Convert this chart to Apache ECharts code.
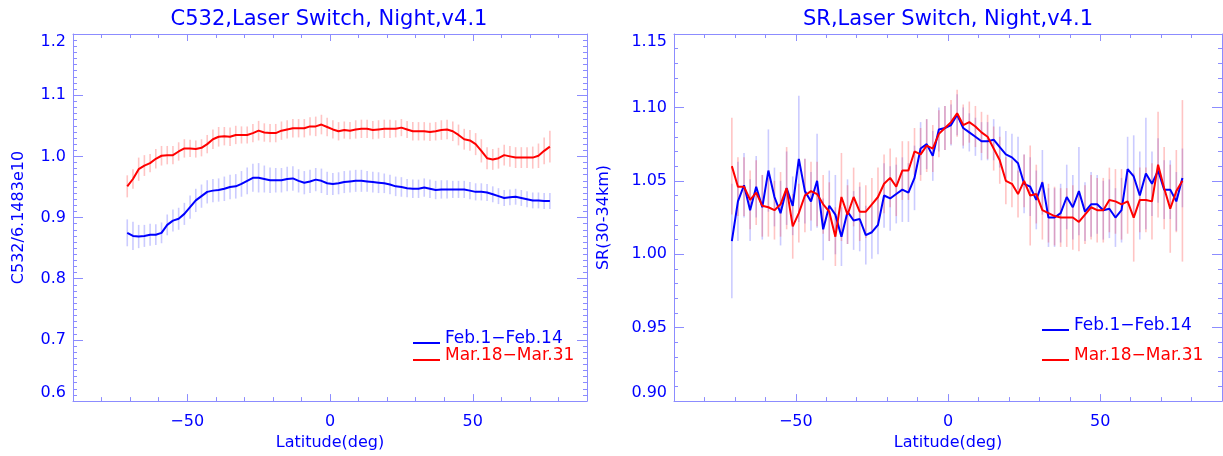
<!DOCTYPE html>
<html>
<head>
<meta charset="utf-8">
<script src="https://cdn.jsdelivr.net/npm/echarts@6.0.0/dist/echarts.min.js"></script>
<style>
  html, body { margin: 0; padding: 0; background: #ffffff; }
  #chart { width: 1223px; height: 456px; }
</style>
</head>
<body>
<div id="chart"></div>
<script>
// Latitude bin centres (deg)
const latitudes = [
  -71, -69, -67, -65, -63, -61, -59, -57, -55, -53,
  -51, -49, -47, -45, -43, -41, -39, -37, -35, -33,
  -31, -29, -27, -25, -23, -21, -19, -17, -15, -13,
  -11, -9, -7, -5, -3, -1, 1, 3, 5, 7,
  9, 11, 13, 15, 17, 19, 21, 23, 25, 27,
  29, 31, 33, 35, 37, 39, 41, 43, 45, 47,
  49, 51, 53, 55, 57, 59, 61, 63, 65, 67,
  69, 71, 73, 75, 77
];

const seriesNames = ['Feb.1-Feb.14', 'Mar.18-Mar.31'];

// Normalised C532 (left panel)
const c532Feb = [
  0.875, 0.870, 0.869, 0.870, 0.872, 0.872, 0.875, 0.888, 0.895, 0.898,
  0.906, 0.917, 0.928, 0.935, 0.942, 0.944, 0.945, 0.947, 0.950, 0.951,
  0.955, 0.960, 0.965, 0.965, 0.963, 0.961, 0.961, 0.961, 0.963, 0.964,
  0.960, 0.957, 0.959, 0.962, 0.960, 0.956, 0.955, 0.956, 0.958, 0.959,
  0.960, 0.960, 0.959, 0.958, 0.957, 0.956, 0.954, 0.951, 0.950, 0.948,
  0.947, 0.947, 0.949, 0.947, 0.945, 0.946, 0.946, 0.946, 0.946, 0.946,
  0.944, 0.942, 0.942, 0.941, 0.938, 0.935, 0.932, 0.933, 0.934, 0.932,
  0.930, 0.928, 0.928, 0.927, 0.927
];
const c532FebErr = [
  0.022, 0.023, 0.019, 0.018, 0.018, 0.017, 0.017, 0.017, 0.018, 0.018,
  0.018, 0.019, 0.019, 0.019, 0.019, 0.019, 0.019, 0.020, 0.020, 0.020,
  0.021, 0.022, 0.023, 0.024, 0.022, 0.021, 0.020, 0.020, 0.020, 0.020,
  0.019, 0.019, 0.019, 0.019, 0.020, 0.019, 0.018, 0.018, 0.018, 0.018,
  0.018, 0.018, 0.017, 0.017, 0.017, 0.016, 0.016, 0.016, 0.016, 0.015,
  0.015, 0.015, 0.015, 0.015, 0.015, 0.015, 0.015, 0.014, 0.014, 0.014,
  0.014, 0.014, 0.014, 0.014, 0.013, 0.013, 0.013, 0.013, 0.013, 0.013,
  0.013, 0.013, 0.013, 0.013, 0.013
];
const c532Mar = [
  0.951, 0.963, 0.979, 0.985, 0.989, 0.996, 1.001, 1.002, 1.002, 1.008,
  1.013, 1.013, 1.012, 1.014, 1.020, 1.028, 1.032, 1.033, 1.032, 1.035,
  1.035, 1.035, 1.038, 1.042, 1.039, 1.038, 1.038, 1.042, 1.044, 1.046,
  1.046, 1.046, 1.049, 1.049, 1.052, 1.048, 1.044, 1.041, 1.043, 1.042,
  1.044, 1.045, 1.045, 1.043, 1.044, 1.045, 1.045, 1.045, 1.047, 1.044,
  1.041, 1.041, 1.041, 1.040, 1.041, 1.043, 1.044, 1.041, 1.035, 1.028,
  1.026, 1.020, 1.009, 0.997, 0.995, 0.997, 1.002, 1.000, 0.998, 0.998,
  0.998, 0.998, 1.001, 1.009, 1.016
];
const c532MarErr = [
  0.018, 0.016, 0.019, 0.017, 0.015, 0.016, 0.016, 0.015, 0.015, 0.015,
  0.015, 0.014, 0.014, 0.014, 0.015, 0.016, 0.016, 0.015, 0.015, 0.015,
  0.014, 0.014, 0.015, 0.016, 0.015, 0.015, 0.015, 0.015, 0.015, 0.015,
  0.015, 0.015, 0.015, 0.016, 0.016, 0.015, 0.015, 0.015, 0.014, 0.014,
  0.015, 0.015, 0.015, 0.015, 0.015, 0.015, 0.015, 0.014, 0.014, 0.014,
  0.015, 0.015, 0.015, 0.015, 0.015, 0.016, 0.016, 0.016, 0.017, 0.017,
  0.017, 0.018, 0.019, 0.018, 0.017, 0.017, 0.017, 0.017, 0.017, 0.017,
  0.017, 0.018, 0.020, 0.022, 0.026
];

// Scattering ratio 30-34 km (right panel)
const srFeb = [
  1.009, 1.036, 1.047, 1.030, 1.046, 1.032, 1.057, 1.039, 1.028, 1.045,
  1.033, 1.065, 1.043, 1.036, 1.050, 1.017, 1.033, 1.027, 1.012, 1.029,
  1.023, 1.024, 1.013, 1.015, 1.020, 1.040, 1.038, 1.041, 1.044, 1.042,
  1.052, 1.072, 1.075, 1.067, 1.085, 1.086, 1.088, 1.095, 1.086, 1.083,
  1.080, 1.077, 1.077, 1.078, 1.073, 1.068, 1.066, 1.062, 1.048, 1.046,
  1.037, 1.049, 1.025, 1.025, 1.028, 1.039, 1.032, 1.043, 1.029, 1.034,
  1.034, 1.030, 1.031, 1.025, 1.030, 1.058, 1.053, 1.040, 1.055, 1.048,
  1.057, 1.044, 1.044, 1.036, 1.052
];
const srFebErr = [
  0.039, 0.027, 0.022, 0.021, 0.021, 0.022, 0.028, 0.020, 0.022, 0.025,
  0.020, 0.043, 0.022, 0.020, 0.032, 0.021, 0.024, 0.027, 0.020, 0.022,
  0.020, 0.022, 0.020, 0.018, 0.020, 0.022, 0.022, 0.020, 0.022, 0.020,
  0.022, 0.018, 0.017, 0.017, 0.015, 0.015, 0.014, 0.014, 0.014, 0.013,
  0.013, 0.013, 0.013, 0.014, 0.014, 0.016, 0.016, 0.018, 0.020, 0.020,
  0.020, 0.022, 0.020, 0.020, 0.020, 0.022, 0.022, 0.030, 0.020, 0.022,
  0.020, 0.020, 0.020, 0.020, 0.022, 0.022, 0.028, 0.030, 0.038, 0.022,
  0.022, 0.020, 0.020, 0.020, 0.020
];
const srMar = [
  1.060, 1.046, 1.046, 1.037, 1.042, 1.033, 1.032, 1.030, 1.034, 1.045,
  1.019, 1.028, 1.040, 1.043, 1.041, 1.034, 1.029, 1.012, 1.039, 1.027,
  1.039, 1.029, 1.029, 1.034, 1.039, 1.048, 1.052, 1.046, 1.057, 1.057,
  1.070, 1.068, 1.074, 1.072, 1.082, 1.086, 1.090, 1.096, 1.088, 1.090,
  1.087, 1.083, 1.080, 1.072, 1.064, 1.050, 1.048, 1.041, 1.050, 1.040,
  1.041, 1.030, 1.028, 1.026, 1.025, 1.025, 1.025, 1.022, 1.027, 1.032,
  1.030, 1.030, 1.037, 1.036, 1.034, 1.036, 1.025, 1.037, 1.037, 1.036,
  1.061, 1.045, 1.031, 1.043, 1.050
];
const srMarErr = [
  0.033, 0.020, 0.020, 0.020, 0.022, 0.021, 0.020, 0.020, 0.022, 0.028,
  0.022, 0.020, 0.025, 0.020, 0.022, 0.020, 0.020, 0.020, 0.030, 0.020,
  0.020, 0.020, 0.018, 0.018, 0.020, 0.020, 0.020, 0.020, 0.020, 0.020,
  0.016, 0.018, 0.018, 0.016, 0.016, 0.015, 0.015, 0.016, 0.014, 0.014,
  0.014, 0.014, 0.015, 0.015, 0.016, 0.016, 0.016, 0.016, 0.018, 0.034,
  0.020, 0.020, 0.020, 0.020, 0.020, 0.020, 0.022, 0.020, 0.020, 0.022,
  0.022, 0.022, 0.022, 0.022, 0.024, 0.022, 0.030, 0.022, 0.022, 0.026,
  0.036, 0.028, 0.030, 0.028, 0.055
];

// Axis tick labels
const latTickLabels = [-50, 0, 50];
const panelTitles = ['C532,Laser Switch, Night,v4.1', 'SR,Laser Switch, Night,v4.1'];
const yAxisTitles = ['C532/6.1483e10', 'SR(30-34km)'];
const xAxisTitle = 'Latitude(deg)';

const TEXT_BLUE = '#0000ff';
const AXIS_BLUE = '#8c8cff';
const FONT = '"DejaVu Sans", sans-serif';
const LINE_COLORS = ['#0000ff', '#ff0000'];
const BAR_COLORS = ['rgba(70,70,255,0.28)', 'rgba(255,60,60,0.30)'];

const grids = [
  { left: 73, top: 34, width: 514, height: 370 },
  { left: 674, top: 34, width: 548, height: 370 }
];

function minusSign(v) { return String(v).replace(/-/g, '\u2212'); }

function buildXAxes(gi) {
  const base = {
    gridIndex: gi, type: 'value', min: -90, max: 90, interval: 10,
    splitLine: { show: false },
    axisLine: { show: true, onZero: false, lineStyle: { color: AXIS_BLUE, width: 1 } }
  };
  return [
    Object.assign({}, base, {
      position: 'bottom',
      axisTick: { show: true, inside: true, length: 4, lineStyle: { color: AXIS_BLUE } },
      axisLabel: {
        show: true, customValues: latTickLabels, margin: 13,
        color: TEXT_BLUE, fontFamily: FONT, fontSize: 16, formatter: minusSign
      },
      name: xAxisTitle, nameLocation: 'middle', nameGap: 33,
      nameTextStyle: { color: TEXT_BLUE, fontFamily: FONT, fontSize: 16 }
    }),
    Object.assign({}, base, {
      position: 'bottom',
      axisLine: { show: false },
      axisTick: { show: true, inside: true, length: 7, customValues: latTickLabels, lineStyle: { color: AXIS_BLUE } },
      axisLabel: { show: false }
    }),
    Object.assign({}, base, {
      position: 'top',
      axisTick: { show: true, inside: true, length: 4, lineStyle: { color: AXIS_BLUE } },
      axisLabel: { show: false }
    }),
    Object.assign({}, base, {
      position: 'top',
      axisLine: { show: false },
      axisTick: { show: true, inside: true, length: 7, customValues: latTickLabels, lineStyle: { color: AXIS_BLUE } },
      axisLabel: { show: false }
    })
  ];
}

function buildYAxes(gi, min, max, interval, minorSplit, decimals, nameGap) {
  const base = {
    gridIndex: gi, type: 'value', min: min, max: max, interval: interval,
    splitLine: { show: false },
    axisLine: { show: true, onZero: false, lineStyle: { color: AXIS_BLUE, width: 1 } },
    axisTick: { show: true, inside: true, length: 10, lineStyle: { color: AXIS_BLUE } },
    minorTick: { show: true, splitNumber: minorSplit, length: 4, lineStyle: { color: AXIS_BLUE } }
  };
  return [
    Object.assign({}, base, {
      position: 'left',
      axisLabel: {
        show: true, margin: 7, color: TEXT_BLUE, fontFamily: FONT, fontSize: 16,
        formatter: function (v) { return v.toFixed(decimals); },
        verticalAlignMaxLabel: 'top', verticalAlignMinLabel: 'bottom'
      },
      name: yAxisTitles[gi], nameLocation: 'middle', nameGap: nameGap, nameRotate: 90,
      nameTextStyle: { color: TEXT_BLUE, fontFamily: FONT, fontSize: 16 }
    }),
    Object.assign({}, base, {
      position: 'right',
      axisLabel: { show: false }
    })
  ];
}

function errorBars(gi, values, errs, barColor, lineColor, name) {
  const data = latitudes.map(function (lat, i) {
    return [lat, values[i] - errs[i], values[i] + errs[i]];
  });
  return {
    type: 'custom', name: name, xAxisIndex: gi * 4, yAxisIndex: gi * 2,
    data: data, encode: { x: 0, y: [1, 2] }, silent: true, z: 1,
    itemStyle: { color: lineColor },
    renderItem: function (params, api) {
      const p1 = api.coord([api.value(0), api.value(1)]);
      const p2 = api.coord([api.value(0), api.value(2)]);
      return {
        type: 'line',
        shape: { x1: p1[0], y1: p1[1], x2: p2[0], y2: p2[1] },
        style: { stroke: barColor, lineWidth: 1.6 }
      };
    }
  };
}

function profile(gi, values, color, name) {
  return {
    type: 'line', name: name, xAxisIndex: gi * 4, yAxisIndex: gi * 2,
    data: latitudes.map(function (lat, i) { return [lat, values[i]]; }),
    showSymbol: false, symbol: 'none', z: 3,
    lineStyle: { color: color, width: 2 }, itemStyle: { color: color }
  };
}

function legendFor(left, top, gap) {
  return {
    orient: 'vertical', left: left, top: top, itemGap: gap,
    itemWidth: 27, itemHeight: 2, icon: 'rect', padding: 0,
    selectedMode: false,
    formatter: function (name) { return '{t|' + minusSign(name) + '}'; },
    textStyle: {
      fontFamily: FONT, fontSize: 17,
      rich: { t: { fontFamily: FONT, fontSize: 17, padding: [0, 0, 9, 0] } }
    },
    data: [
      { name: seriesNames[0], itemStyle: { color: LINE_COLORS[0] }, textStyle: { color: LINE_COLORS[0] } },
      { name: seriesNames[1], itemStyle: { color: LINE_COLORS[1] }, textStyle: { color: LINE_COLORS[1] } }
    ]
  };
}

const option = {
  animation: false,
  backgroundColor: '#ffffff',
  title: [
    { text: panelTitles[0], left: 329, top: 9, textAlign: 'center', padding: 0,
      textStyle: { color: TEXT_BLUE, fontFamily: FONT, fontSize: 21, fontWeight: 'normal' } },
    { text: panelTitles[1], left: 948, top: 9, textAlign: 'center', padding: 0,
      textStyle: { color: TEXT_BLUE, fontFamily: FONT, fontSize: 21, fontWeight: 'normal' } }
  ],
  legend: [legendFor(413, 330, 0), legendFor(1042, 317, 13)],
  grid: grids.map(function (g) { return Object.assign({ containLabel: false }, g); }),
  xAxis: buildXAxes(0).concat(buildXAxes(1)),
  yAxis: buildYAxes(0, 0.6, 1.2, 0.1, 10, 1, 46).concat(buildYAxes(1, 0.9, 1.15, 0.05, 5, 2, 62)),
  series: [
    errorBars(0, c532Feb, c532FebErr, BAR_COLORS[0], LINE_COLORS[0], seriesNames[0]),
    errorBars(0, c532Mar, c532MarErr, BAR_COLORS[1], LINE_COLORS[1], seriesNames[1]),
    profile(0, c532Feb, LINE_COLORS[0], seriesNames[0]),
    profile(0, c532Mar, LINE_COLORS[1], seriesNames[1]),
    errorBars(1, srFeb, srFebErr, BAR_COLORS[0], LINE_COLORS[0], seriesNames[0]),
    errorBars(1, srMar, srMarErr, BAR_COLORS[1], LINE_COLORS[1], seriesNames[1]),
    profile(1, srFeb, LINE_COLORS[0], seriesNames[0]),
    profile(1, srMar, LINE_COLORS[1], seriesNames[1])
  ]
};

const chart = echarts.init(document.getElementById('chart'), null, { renderer: 'canvas' });
chart.setOption(option);
</script>
</body>
</html>
